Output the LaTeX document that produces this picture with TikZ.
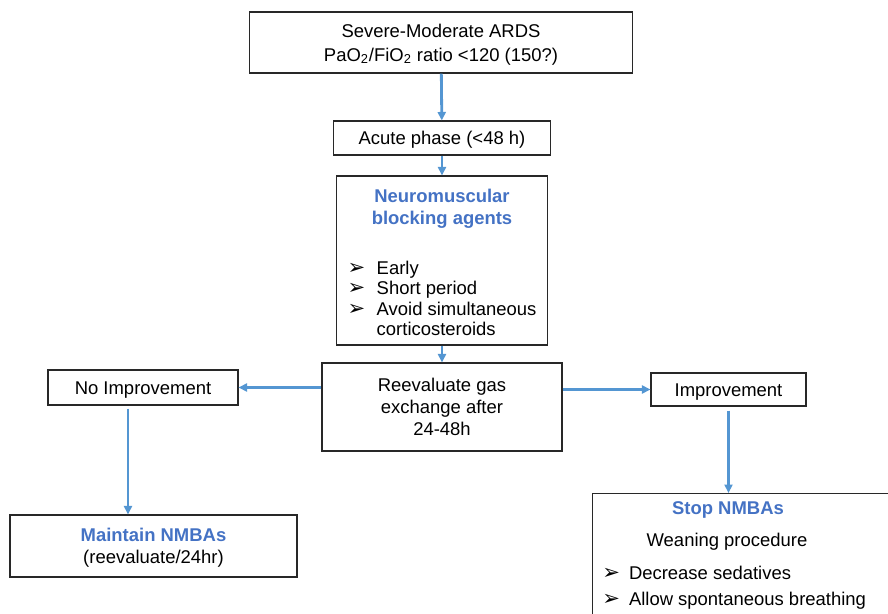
\documentclass[tikz,border=0pt]{standalone}
\usepackage{fontspec}
\setmainfont{Liberation Sans}
\newfontfamily\symfont{DejaVu Sans}
\usetikzlibrary{arrows.meta}
\definecolor{pfeilblau}{RGB}{84,150,210}
\definecolor{titelblau}{RGB}{68,114,196}
\definecolor{rahmen}{RGB}{40,40,40}
\newcommand{\bul}{{\symfont\fontsize{12}{12}\selectfont ➢}}

\begin{document}
\begin{tikzpicture}[x=0.2mm, y=-0.2mm, font=\fontsize{10.5}{12.5}\selectfont,
  box/.style={draw=rahmen, line width=0.6pt, inner sep=0pt, align=center, text depth=0pt},
  zeile/.style={box, text height=7.5pt},
  pfeil/.style={draw=pfeilblau, line width=1.6pt, -{Triangle[length=1.7mm,width=1.6mm]}},
  titel/.style={text=titelblau, font=\fontsize{10.5}{12.5}\selectfont\bfseries}]
\clip (0,0) rectangle (888,614);

% main column
\node[box, minimum width=76.6mm, minimum height=12.2mm] (ards) at (441,42.5)
  {Severe-Moderate ARDS\\[1pt]PaO\textsubscript{2}/FiO\textsubscript{2} ratio <120 (150?)};
\node[zeile, minimum width=43.4mm, minimum height=6.8mm] (acute) at (442,138) {Acute phase (<48 h)};
\node[draw=rahmen, line width=0.6pt, inner sep=0pt, minimum width=42.2mm, minimum height=33.8mm] (nmba) at (442,260.5)
  {\parbox{40mm}{\centering
   \vspace*{2mm}
   {\color{titelblau}\bfseries Neuromuscular\par blocking agents\par}
   \vspace{6mm}
   \renewcommand{\arraystretch}{0.93}%
   \begin{tabular}{@{}l@{\hspace{2.3mm}}l@{}}
   \bul & Early\\
   \bul & Short period\\
   \bul & Avoid simultaneous\\
        & corticosteroids
   \end{tabular}\par}};
\node[box, minimum width=48mm, minimum height=17.6mm] (reeval) at (442,407)
  {Reevaluate gas\\exchange after\\24-48h};

% left branch
\node[zeile, minimum width=38mm, minimum height=7mm] (noimp) at (143,387.5) {No Improvement};
\node[box, minimum width=57.4mm, minimum height=12.4mm] (maintain) at (153.5,546)
  {\textcolor{titelblau}{\bfseries Maintain NMBAs}\\(reevaluate/24hr)};

% right branch
\node[zeile, minimum width=31mm, minimum height=6.6mm] (imp) at (728.5,389.5) {Improvement};
\node[box, anchor=north west, minimum width=62mm, minimum height=30mm] (stop) at (592,493) {};
\node[titel] (stoptitel) at (728,510) {Stop NMBAs};
\node (weaning) at (727,542) {Weaning procedure};
\node[anchor=west, inner sep=0pt] (sedativ) at (602,573) {\bul\hspace{1.8mm}Decrease sedatives};
\node[anchor=west, inner sep=0pt] (atmung) at (602,601) {\bul\hspace{1.8mm}Allow spontaneous breathing};

% arrows
\draw[pfeil] (ards) -- (acute);
\draw[pfeil] (acute) -- (nmba);
\draw[pfeil] (nmba) -- (reeval);
\draw[pfeil] (reeval.west |- noimp) -- (noimp);
\draw[pfeil] (reeval.east |- imp) -- (imp);
\coordinate (nimpfuss) at ([xshift=-3mm]noimp.south);
\draw[pfeil, shorten <=0.6mm] (nimpfuss) -- (nimpfuss |- maintain.north);
\draw[pfeil, shorten <=0.8mm] (imp.south) -- (imp.south |- stop.north);
\end{tikzpicture}
\end{document}
